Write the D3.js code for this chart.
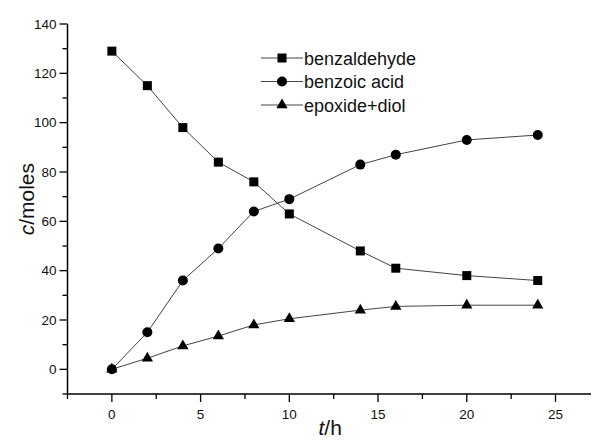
<!DOCTYPE html>
<html lang="en">
<head>
  <meta charset="utf-8">
  <title></title>
  <script src="https://d3js.org/d3.v7.min.js"></script>
</head>
<style>
body { margin: 0; background: white; }
svg { font-family: "Liberation Sans", Arial, sans-serif; }
.tick-label { font-size: 13.5px; fill: #111; }
.axis-title { font-size: 21px; fill: #111; }
.legend-label { font-size: 18px; fill: #111; }
.series-line { fill: none; stroke: #444; stroke-width: 1; }
</style>
<body>
<div class="chart"></div>
<script type="text/javascript">
var times = [0, 2, 4, 6, 8, 10, 14, 16, 20, 24];
var benzaldehyde = [129, 115, 98, 84, 76, 63, 48, 41, 38, 36];
var benzoicAcid = [0, 15, 36, 49, 64, 69, 83, 87, 93, 95];
var epoxideDiol = [0, 4.5, 9.5, 13.5, 18, 20.5, 24, 25.5, 26, 26];
var seriesNames = ["benzaldehyde", "benzoic acid", "epoxide+diol"];
var seriesShapes = ["square", "circle", "triangle"];
var xTicks = [0, 5, 10, 15, 20, 25];
var yTicks = [0, 20, 40, 60, 80, 100, 120, 140];

var width = 592, height = 440;
var svg = d3.select(".chart").append("svg")
  .attr("width", width)
  .attr("height", height);

var x = d3.scaleLinear().domain([-2.5, 27]).range([67.5, 591]);
var y = d3.scaleLinear().domain([-10, 140]).range([394, 24]);

// axes
var xAxis = svg.append("g").attr("transform", "translate(0," + y(-10) + ")");
xAxis.append("line").attr("x1", x(-2.5)).attr("x2", x(27)).attr("stroke", "black").attr("stroke-width", 1.5);
xAxis.selectAll(".minor").data(d3.range(-2.5, 27, 2.5)).enter().append("line")
  .attr("x1", function(d){return x(d);}).attr("x2", function(d){return x(d);})
  .attr("y1", 0).attr("y2", function(d){return (d % 5 == 0) ? 8 : 5;})
  .attr("stroke", "black").attr("stroke-width", 1.3);
xAxis.selectAll(".tick-label").data(xTicks).enter().append("text")
  .attr("class", "tick-label")
  .attr("x", function(d){return x(d);})
  .attr("y", 25)
  .attr("text-anchor", "middle")
  .text(function(d){return d;});

var yAxis = svg.append("g").attr("transform", "translate(" + x(-2.5) + ",0)");
yAxis.append("line").attr("y1", y(-10)).attr("y2", y(140)).attr("stroke", "black").attr("stroke-width", 1.5);
yAxis.selectAll(".minor").data(d3.range(-10, 141, 10)).enter().append("line")
  .attr("y1", function(d){return y(d);}).attr("y2", function(d){return y(d);})
  .attr("x1", 0).attr("x2", function(d){return (d % 20 == 0) ? -8 : -5;})
  .attr("stroke", "black").attr("stroke-width", 1.3);
yAxis.selectAll(".tick-label").data(yTicks).enter().append("text")
  .attr("class", "tick-label")
  .attr("x", -11)
  .attr("y", function(d){return y(d) + 4.5;})
  .attr("text-anchor", "end")
  .text(function(d){return d;});

var xTitle = svg.append("text").attr("class", "axis-title")
  .attr("x", x(12.3)).attr("y", 435).attr("text-anchor", "middle");
xTitle.append("tspan").attr("font-style", "italic").text("t");
xTitle.append("tspan").text("/h");

var yTitle = svg.append("text").attr("class", "axis-title")
  .attr("transform", "translate(34," + y(69) + ") rotate(-90)")
  .attr("text-anchor", "middle");
yTitle.append("tspan").attr("font-style", "italic").text("c");
yTitle.append("tspan").text("/moles");

// markers
var drawMarker = function(g, shape, cx, cy) {
  if (shape == "square") {
    g.append("rect").attr("x", cx - 4.5).attr("y", cy - 4.5).attr("width", 9).attr("height", 9).attr("fill", "black");
  } else if (shape == "circle") {
    g.append("circle").attr("cx", cx).attr("cy", cy).attr("r", 5).attr("fill", "black");
  } else {
    g.append("path").attr("d", d3.symbol().type(d3.symbolTriangle).size(55)()).attr("transform", "translate(" + cx + "," + cy + ")").attr("fill", "black");
  }
};

var allSeries = [benzaldehyde, benzoicAcid, epoxideDiol];
var line = d3.line()
  .x(function(d, i){return x(times[i]);})
  .y(function(d){return y(d);});

allSeries.forEach(function(values, s) {
  var g = svg.append("g");
  g.append("path").attr("class", "series-line").attr("d", line(values));
  values.forEach(function(v, i) {
    drawMarker(g, seriesShapes[s], x(times[i]), y(v));
  });
});

// legend
var legend = svg.append("g").attr("transform", "translate(261,58)");
seriesNames.forEach(function(name, i) {
  var row = legend.append("g").attr("transform", "translate(0," + (i * 23.5) + ")");
  row.append("line").attr("x1", 0).attr("x2", 42).attr("y1", 0).attr("y2", 0).attr("stroke", "#444").attr("stroke-width", 1.2);
  drawMarker(row, seriesShapes[i], 21, 0);
  row.append("text").attr("class", "legend-label").attr("x", 43).attr("y", 6.5).text(name);
});
</script>
</body>
</html>
